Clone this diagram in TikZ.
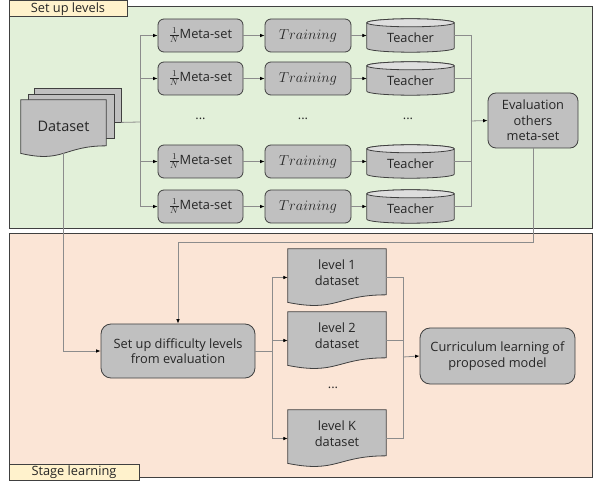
\documentclass[tikz,border=0pt]{standalone}
\usepackage{fontspec}
\setmainfont{Open Sans}
\usetikzlibrary{calc,arrows.meta}
\pgfdeclarelayer{back}
\pgfdeclarelayer{mid}
\pgfsetlayers{back,mid,main}
\definecolor{greenbg}{RGB}{226,240,217}
\definecolor{orangebg}{RGB}{251,229,214}
\definecolor{labelbg}{RGB}{255,242,204}
\definecolor{nodegray}{RGB}{192,192,192}
\definecolor{topgray}{RGB}{222,222,222}
\definecolor{edgegray}{RGB}{64,64,64}
\definecolor{linegray}{RGB}{140,140,140}
\newcommand\mydoc[1]{%
\begin{pgfonlayer}{mid}
\path[docfill] (#1.north west) -- (#1.north east) -- ($(#1.north east)!0.802!(#1.south east)$)
 .. controls ($(#1.north)!0.802!(#1.south)$) and ($(#1.north)!1.107!(#1.south)$) ..
 ($(#1.north west)!0.934!(#1.south west)$) -- cycle;
\end{pgfonlayer}}
\newcommand\mycyl[1]{%
\begin{pgfonlayer}{mid}
\path let \p1=(#1.north west), \p2=(#1.south east), \n1={(\x2-\x1)/2} in
 [docfill] (\x1,\y1-4pt) -- (\x1,\y2+4pt) arc[start angle=180,end angle=360,x radius=\n1,y radius=4pt]
 -- (\x2,\y1-4pt) arc[start angle=0,end angle=180,x radius=\n1,y radius=4pt] -- cycle;
\path let \p1=(#1.north west), \p2=(#1.south east), \n1={(\x2-\x1)/2} in
 [docfill,fill=topgray] (\x1+\n1,\y1-4pt) ellipse[x radius=\n1,y radius=4pt];
\end{pgfonlayer}}
\begin{document}
\begin{tikzpicture}[x=1pt,y=-1pt,
  txt/.style={font=\fontsize{12.8}{15.5}\selectfont, text=black!85},
  box/.style={txt, draw=edgegray, fill=nodegray, line width=0.8pt, rounded corners=6pt, align=center, inner sep=0pt},
  docnode/.style={inner sep=0pt, minimum width=98, minimum height=57},
  doctext/.style={txt, align=center, inner sep=0pt},
  docfill/.style={draw=edgegray, fill=nodegray, line width=0.8pt},
  cylnode/.style={txt, inner sep=0pt, minimum width=87, minimum height=33},
  plain/.style={draw=linegray, line width=0.8pt},
  conn/.style={draw=linegray, line width=0.8pt, -{Latex[length=4.5pt,width=3.6pt,color=black]}},
  panel/.style={draw=edgegray, line width=1pt},
  tag/.style={draw=edgegray, line width=1pt, fill=labelbg},
  dots/.style={txt, inner sep=0pt}]
\useasboundingbox (0,0) rectangle (595,481);
\begin{pgfonlayer}{back}
\path[panel, fill=greenbg] (9,7) rectangle (592,229);
\path[panel, fill=orangebg] (9,234) rectangle (592,477);
\path[tag] (9,0.5) rectangle (127,17);
\path[tag] (9,464) rectangle (139,480.5);
\end{pgfonlayer}
\node[txt] (lab1) at (68,9) {Set up levels};
\node[txt] (lab2) at (74,472.5) {Stage learning};
% dataset multi document
\begin{pgfonlayer}{mid}
\node[docfill, minimum width=87, minimum height=34, inner sep=0pt] (databack) at (77.5,105) {};
\node[docfill, minimum width=86, minimum height=44, inner sep=0pt] (datamid) at (71,116) {};
\end{pgfonlayer}
\node[docnode, minimum width=85] (data) at (63.5,128.5) {};
\mydoc{data}
\node[doctext, font=\fontsize{14.5}{16}\selectfont] (datat) at ($(data)+(0,-2)$) {Dataset};
\coordinate (dbot) at ($(data.north)!0.933!(data.south)$);
% rows
\foreach \i/\y in {1/35.5,2/78.5,3/161.5,4/206.5}{
  \node[box, minimum width=85, minimum height=33] (m\i) at (200.5,\y) {$\frac{1}{N}$Meta-set};
  \node[box, minimum width=86, minimum height=33, font=\fontsize{14}{15}\selectfont] (t\i) at (308,\y) {$Training$};
  \node[cylnode] (c\i) at (410.5,\y) {};
  \mycyl{c\i}
  \node[txt] (c\i t) at ($(c\i)+(0,2.5)$) {Teacher};
}
\node[dots] (d1) at (200.5,119) {...};
\node[dots] (d2) at (303,119) {...};
\node[dots] (d3) at (408,119) {...};
\node[box, minimum width=90, minimum height=55, rounded corners=8pt] (eval) at (533,120.5) {Evaluation\\others\\meta-set};
% connectors top
\coordinate (b1) at (140,122);
\draw[plain] (databack.south east) -- (b1);
\coordinate (b2) at (471,121);
\foreach \i in {1,2,3,4}{
  \draw[conn] (b1) |- (m\i.west);
  \draw[conn] (m\i) -- (t\i);
  \draw[conn] (t\i) -- (c\i);
  \draw[plain] (c\i.east) -| (b2);
}
\draw[conn] (b2) -- (eval.west);
% bottom
\node[box, minimum width=154, minimum height=54, rounded corners=10pt] (setup) at (178,351) {Set up difficulty levels\\from evaluation};
\node[box, minimum width=155, minimum height=56, rounded corners=10pt] (curr) at (497.5,356) {Curriculum learning of\\proposed model};
\node[docnode] (l1) at (337,277.5) {};
\node[docnode] (l2) at (337,340.5) {};
\node[docnode] (l3) at (337,438.5) {};
\mydoc{l1}\mydoc{l2}\mydoc{l3}
\node[doctext] (l1t) at ($(l1)+(0,-5)$) {level 1\\dataset};
\node[doctext] (l2t) at ($(l2)+(0,-5)$) {level 2\\dataset};
\node[doctext] (l3t) at ($(l3)+(0,-5)$) {level K\\dataset};
\node[dots] (d4) at (333,388) {...};
\coordinate (e1) at (533,242);
\draw[conn] (eval.south) -- (e1) -| (setup.north);
\draw[conn] (dbot) |- (setup.west);
\coordinate (b3) at (272,351);
\draw[plain] (setup.east) -- (b3);
\coordinate (b4) at (403,357);
\foreach \n in {l1,l2,l3}{
  \draw[conn] (b3) |- (\n.west);
  \draw[plain] (\n.east) -| (b4);
}
\draw[conn] (b4) -- (curr.west);
\end{tikzpicture}
\end{document}
